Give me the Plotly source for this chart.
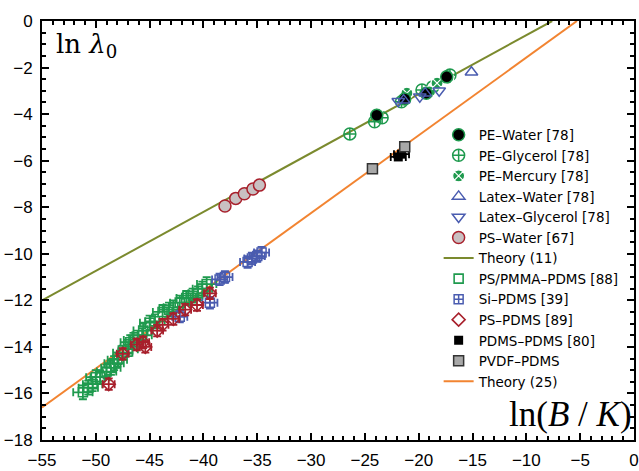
import plotly.graph_objects as go

# ---------------- data ----------------
pe_water_x = [-23.9, -21.3, -19.3, -17.4]
pe_water_y = [-4.05, -3.35, -3.1, -2.4]

pe_glycerol_x = [-26.4, -24.1, -23.4, -21.6, -19.7, -18.7, -17.1]
pe_glycerol_y = [-4.85, -4.33, -4.16, -3.47, -2.96, -2.83, -2.32]

pe_mercury_x = [-23.9, -21.1, -19.0, -18.3, -17.3]
pe_mercury_y = [-4.0, -3.1, -3.05, -2.67, -2.45]

latex_water_x = [-15.1, -21.4, -19.4]
latex_water_y = [-2.2, -3.4, -3.1]

latex_gly_x = [-21.9, -18.1, -19.9]
latex_gly_y = [-3.45, -3.0, -3.25]

ps_water_x = [-38.0, -37.0, -36.2, -35.4, -34.8]
ps_water_y = [-7.95, -7.62, -7.42, -7.22, -7.05]

theory11_x = [-55.0, -7.6]
theory11_y = [-12.0, 0.0]

pspmma_x = [-51.2, -50.7, -50.3, -49.6, -49.0, -48.6, -48.0, -47.5, -47.0, -46.8,
            -46.5, -45.7, -45.6, -45.0, -44.5, -43.8, -43.2, -42.8, -42.2, -41.6,
            -41.0, -40.5, -40.1, -39.7, -50.0, -48.3]
pspmma_y = [-15.95, -15.75, -15.6, -15.3, -15.06, -14.9, -14.55, -14.25, -14.1, -13.8,
            -13.7, -13.5, -13.3, -12.96, -12.9, -12.5, -12.4, -12.3, -12.1, -11.9,
            -11.8, -11.7, -11.5, -11.3, -15.3, -14.7]

si_pdms_x = [-42.2, -39.4, -38.5, -38.0, -35.9, -35.5, -35.0, -34.6]
si_pdms_y = [-12.7, -12.1, -11.1, -11.0, -10.35, -10.2, -10.1, -9.95]

ps_pdms_x = [-48.8, -47.5, -46.2, -45.6, -45.4, -44.3, -43.8, -42.8, -41.7, -40.6, -39.4]
ps_pdms_y = [-15.6, -14.3, -13.9, -13.8, -14.0, -13.3, -13.05, -12.8, -12.4, -12.2, -11.7]

pdms_pdms_x = [-21.9, -21.6]
pdms_pdms_y = [-5.84, -5.72]

pvdf_x = [-24.3, -21.3]
pvdf_y = [-6.35, -5.4]

theory25_x = [-55.0, -5.3]
theory25_y = [-16.6, 0.0]

x_ticks = [-55, -50, -45, -40, -35, -30, -25, -20, -15, -10, -5, 0]
y_ticks = [-18, -16, -14, -12, -10, -8, -6, -4, -2, 0]

# ---------------- styles ----------------
GREEN = "#1f9a4e"
OLIVE = "#7b8a2e"
ORANGE = "#f28431"
BLUE = "#4a5cb0"
RED = "#a8202c"

fig = go.Figure()

fig.add_trace(go.Scatter(x=theory11_x, y=theory11_y, mode="lines", name="Theory (11)",
                         line=dict(color=OLIVE, width=2), legendrank=7))
fig.add_trace(go.Scatter(x=theory25_x, y=theory25_y, mode="lines", name="Theory (25)",
                         line=dict(color=ORANGE, width=2), legendrank=13))

def err(n, v):
    return dict(type="data", array=[v] * n, visible=True, thickness=1.8, width=4)

fig.add_trace(go.Scatter(x=pspmma_x, y=pspmma_y, mode="markers", name="PS/PMMA\u2013PDMS [88]",
                         marker=dict(symbol="square-open", size=9, color=GREEN, line=dict(width=1.6)),
                         error_x=dict(err(len(pspmma_x), 0.9), color=GREEN),
                         error_y=dict(err(len(pspmma_x), 0.3), color=GREEN),
                         legendrank=8))
fig.add_trace(go.Scatter(x=si_pdms_x, y=si_pdms_y, mode="markers", name="Si\u2013PDMS [39]",
                         marker=dict(symbol="square-cross-open", size=9, color=BLUE, line=dict(width=1.5)),
                         error_x=dict(err(len(si_pdms_x), 0.7), color=BLUE),
                         error_y=dict(err(len(si_pdms_x), 0.25), color=BLUE),
                         legendrank=9))
fig.add_trace(go.Scatter(x=ps_pdms_x, y=ps_pdms_y, mode="markers", name="PS\u2013PDMS [89]",
                         marker=dict(symbol="diamond-open", size=10, color=RED, line=dict(width=1.6)),
                         error_x=dict(err(len(ps_pdms_x), 0.55), color=RED),
                         error_y=dict(err(len(ps_pdms_x), 0.25), color=RED),
                         legendrank=10))
fig.add_trace(go.Scatter(x=pdms_pdms_x, y=pdms_pdms_y, mode="markers", name="PDMS\u2013PDMS [80]",
                         marker=dict(symbol="square", size=9, color="black"),
                         error_x=dict(err(2, 0.7), color="black"),
                         legendrank=11))
fig.add_trace(go.Scatter(x=pvdf_x, y=pvdf_y, mode="markers", name="PVDF\u2013PDMS",
                         marker=dict(symbol="square", size=10, color="#a8a8a8",
                                     line=dict(color="#333333", width=1.5)),
                         legendrank=12))

fig.add_trace(go.Scatter(x=ps_water_x, y=ps_water_y, mode="markers", name="PS\u2013Water [67]",
                         marker=dict(symbol="circle", size=12, color="#c9c0c2",
                                     line=dict(color=RED, width=1.5)),
                         legendrank=6))
fig.add_trace(go.Scatter(x=pe_glycerol_x, y=pe_glycerol_y, mode="markers", name="PE\u2013Glycerol [78]",
                         marker=dict(symbol="circle-cross-open", size=12, color=GREEN, line=dict(width=1.5)),
                         legendrank=2))
fig.add_trace(go.Scatter(x=pe_mercury_x, y=pe_mercury_y, mode="markers", name="PE\u2013Mercury [78]",
                         marker=dict(symbol="circle-x", size=12, color=GREEN,
                                     line=dict(color="white", width=1.2)),
                         legendrank=3))
fig.add_trace(go.Scatter(x=pe_water_x, y=pe_water_y, mode="markers", name="PE\u2013Water [78]",
                         marker=dict(symbol="circle", size=12, color="black",
                                     line=dict(color=GREEN, width=1.5)),
                         legendrank=1))
fig.add_trace(go.Scatter(x=latex_water_x, y=latex_water_y, mode="markers", name="Latex\u2013Water [78]",
                         marker=dict(symbol="triangle-up-open", size=11, color=BLUE, line=dict(width=1.5)),
                         legendrank=4))
fig.add_trace(go.Scatter(x=latex_gly_x, y=latex_gly_y, mode="markers", name="Latex\u2013Glycerol [78]",
                         marker=dict(symbol="triangle-down-open", size=11, color=BLUE, line=dict(width=1.5)),
                         legendrank=5))

axis_common = dict(showline=True, linecolor="black", linewidth=2, mirror="allticks",
                   ticks="inside", ticklen=7, tickwidth=2, tickcolor="black",
                   showgrid=False, zeroline=False, automargin=False,
                   tickfont=dict(family="Liberation Sans, Arial", size=17, color="black"))

fig.update_xaxes(range=[-55, 0], tickvals=x_ticks, ticklabelstandoff=4,
                 minor=dict(dtick=1, ticks="inside", ticklen=4, tickwidth=1.5, tickcolor="black", showgrid=False),
                 **axis_common)
fig.update_yaxes(range=[-18, 0], tickvals=y_ticks, ticklabelstandoff=4,
                 minor=dict(dtick=0.5, ticks="inside", ticklen=4, tickwidth=1.5, tickcolor="black", showgrid=False),
                 **axis_common)

fig.add_annotation(text="ln <i>λ</i><sub>0</sub>", xref="paper", yref="paper", x=0.02, y=0.985,
                   xanchor="left", yanchor="top", showarrow=False,
                   font=dict(family="DejaVu Serif, Liberation Serif", size=26, color="black"))
fig.add_annotation(text="ln(<i>B</i> / <i>K</i>)", xref="paper", yref="paper", x=1.0, y=0.01,
                   xanchor="right", yanchor="bottom", showarrow=False,
                   font=dict(family="Liberation Serif, DejaVu Serif", size=35, color="black"))

fig.update_layout(
    width=639, height=471,
    margin=dict(l=42, r=5, t=21, b=31, autoexpand=False),
    paper_bgcolor="white", plot_bgcolor="white",
    showlegend=True,
    legend=dict(x=0.67, y=0.765, xanchor="left", yanchor="top", bgcolor="rgba(0,0,0,0)",
                font=dict(family="DejaVu Sans, Liberation Sans", size=13.5, color="black"),
                itemwidth=30, tracegroupgap=0),
)

fig.write_html("out.html", config={"displayModeBar": False},
               post_script="document.body.style.margin='0';document.body.style.padding='0';")
